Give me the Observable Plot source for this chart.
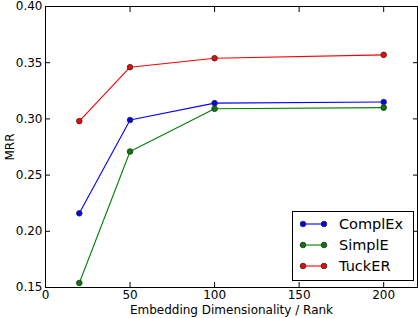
<!DOCTYPE html>
<html><head><meta charset="utf-8">
<script src="https://cdn.jsdelivr.net/npm/d3@7"></script>
<script src="https://cdn.jsdelivr.net/npm/@observablehq/plot@0.6"></script>
<style>body{margin:0;background:#fff}svg{display:block}</style>
</head><body><div id="chart"></div>
<script>
const dims = [20, 50, 100, 200];
const complEx = [0.216, 0.299, 0.314, 0.315];
const simplE = [0.154, 0.271, 0.309, 0.310];
const tuckER = [0.298, 0.346, 0.354, 0.357];
const seriesNames = ["ComplEx", "SimplE", "TuckER"];
const seriesColors = ["#0000ff", "#008000", "#ff0000"];
const xTicks = [0, 50, 100, 150, 200];
const yTicks = [0.15, 0.20, 0.25, 0.30, 0.35, 0.40];

const vals = [complEx, simplE, tuckER];
const data = [];
seriesNames.forEach((s, i) => dims.forEach((d, j) => data.push({series: s, x: d, y: vals[i][j]})));

const font = "DejaVu Sans";
const blank = () => "";
const plot = Plot.plot({
  width: 418, height: 318,
  marginLeft: 45, marginRight: 1, marginTop: 6, marginBottom: 31,
  style: {fontFamily: font, fontSize: "12px", color: "#000", background: "#fff"},
  x: {domain: [0, 220]},
  y: {domain: [0.15, 0.40]},
  color: {domain: seriesNames, range: seriesColors},
  marks: [
    Plot.axisX({ticks: xTicks, tickSize: -5, tickPadding: 8, tickFormat: d3.format("d"), fontSize: 12,
      label: "Embedding Dimensionality / Rank", labelAnchor: "center", labelArrow: "none", labelOffset: 26}),
    Plot.axisX({anchor: "top", ticks: xTicks, tickSize: -5, tickFormat: blank, label: null}),
    Plot.axisY({ticks: yTicks, tickSize: -5, tickPadding: 8, tickFormat: d3.format(".2f"), fontSize: 12,
      label: "MRR", labelAnchor: "center", labelArrow: "none", labelOffset: 40}),
    Plot.axisY({anchor: "right", ticks: yTicks, tickSize: -5, tickFormat: blank, label: null}),
    Plot.line(data, {x: "x", y: "y", z: "series", stroke: "series", strokeWidth: 1.1}),
    Plot.dot(data, {x: "x", y: "y", fill: "series", stroke: "#333", strokeWidth: 0.9, r: 2.8}),
    Plot.frame({stroke: "#000", strokeWidth: 1})
  ]
});
document.getElementById("chart").appendChild(plot);

// legend
const svg = d3.select(plot);
const lg = svg.append("g").attr("font-family", font).attr("font-size", 14.5).attr("text-anchor", "start");
lg.append("rect").attr("x", 292.5).attr("y", 211.5).attr("width", 121).attr("height", 69)
  .attr("fill", "#fff").attr("stroke", "#000").attr("stroke-width", 1);
seriesNames.forEach((s, i) => {
  const yy = 224 + i * 21;
  lg.append("line").attr("x1", 303).attr("x2", 324).attr("y1", yy).attr("y2", yy)
    .attr("stroke", seriesColors[i]).attr("stroke-width", 1.1);
  [303, 324].forEach(cx => lg.append("circle").attr("cx", cx).attr("cy", yy).attr("r", 2.8)
    .attr("fill", seriesColors[i]).attr("stroke", "#333").attr("stroke-width", 0.9));
  lg.append("text").attr("x", 339).attr("y", yy).attr("dy", "0.35em").attr("text-anchor", "start").text(s);
});
</script></body></html>
